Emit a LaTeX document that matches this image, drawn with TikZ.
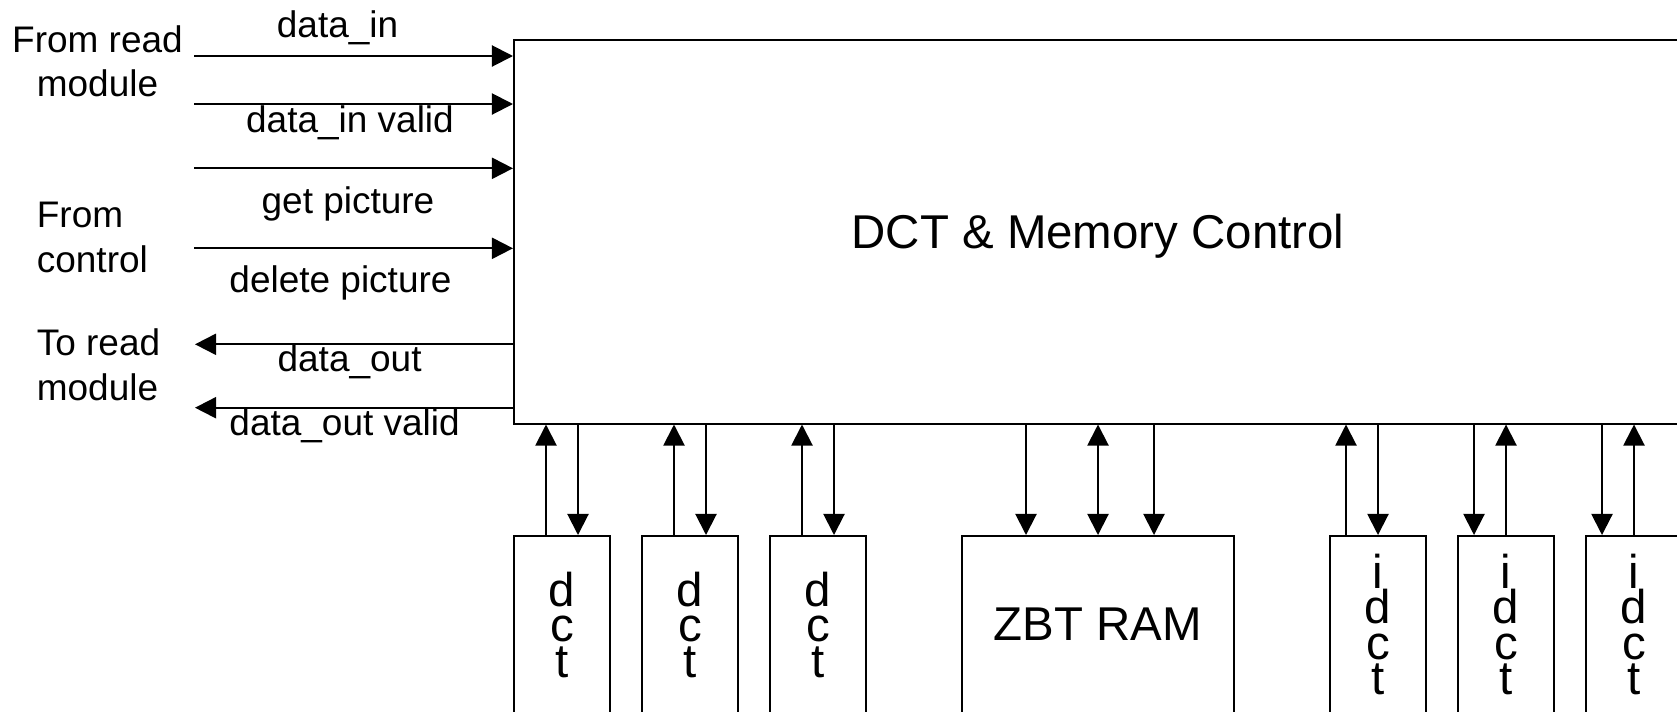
\documentclass[tikz,border=0pt]{standalone}
\usepackage{fontspec}
\setmainfont{Liberation Sans}
\usetikzlibrary{arrows.meta,calc}
\def\u{0.02cm}
\begin{document}
\begin{tikzpicture}[x=0.02cm,y=-0.02cm,
  lw/.style={line width=1.14pt},
  blk/.style={draw,lw,rectangle,inner sep=0pt},
  tipA/.tip={Triangle[length=12pt,width=12pt]},
  arr/.style={lw,-tipA},
  darr/.style={lw,tipA-tipA},
  lbl/.style={inner sep=0pt,font=\fontsize{21.05pt}{25.2pt}\selectfont},
  big/.style={font=\fontsize{27pt}{20.2pt}\selectfont},
]
\useasboundingbox (0,0) rectangle (1677,711);
\clip (0,0) rectangle (1677,711);

% main block
\node[blk,big,text depth=0pt,minimum width=1168*\u,minimum height=383.5*\u] (m) at (1098,231.75) {DCT \& Memory Control};

% lower blocks
\node[blk,big,align=center,minimum width=96*\u,minimum height=177*\u] (d1) at (562,624.5) {d\\c\\t};
\node[blk,big,align=center,minimum width=96*\u,minimum height=177*\u] (d2) at (690,624.5) {d\\c\\t};
\node[blk,big,align=center,minimum width=96*\u,minimum height=177*\u] (d3) at (818,624.5) {d\\c\\t};
\node[blk,big,minimum width=272*\u,minimum height=177*\u] (z) at (1098,624.5) {ZBT RAM};
\node[blk,big,align=center,minimum width=96*\u,minimum height=177*\u] (i1) at (1378,624.5) {i\\d\\c\\t};
\node[blk,big,align=center,minimum width=96*\u,minimum height=177*\u] (i2) at (1506,624.5) {i\\d\\c\\t};
\node[blk,big,align=center,minimum width=96*\u,minimum height=177*\u] (i3) at (1634,624.5) {i\\d\\c\\t};

% arrow feet on lower blocks
\coordinate (d1u) at ($(d1.north)+(-16,0)$);
\coordinate (d1d) at ($(d1.north)+(16,0)$);
\coordinate (d2u) at ($(d2.north)+(-16,0)$);
\coordinate (d2d) at ($(d2.north)+(16,0)$);
\coordinate (d3u) at ($(d3.north)+(-16,0)$);
\coordinate (d3d) at ($(d3.north)+(16,0)$);
\coordinate (z1) at ($(z.north)+(-72,0)$);
\coordinate (z2) at (z.north);
\coordinate (z3) at ($(z.north)+(56,0)$);
\coordinate (i1u) at ($(i1.north)+(-32,0)$);
\coordinate (i1d) at (i1.north);
\coordinate (i2d) at ($(i2.north)+(-32,0)$);
\coordinate (i2u) at (i2.north);
\coordinate (i3d) at ($(i3.north)+(-32,0)$);
\coordinate (i3u) at (i3.north);

\foreach \p in {d1u,d2u,d3u,i1u,i2u,i3u}
  \draw[arr] (\p) -- (\p |- m.south);
\foreach \p in {d1d,d2d,d3d,i1d,i2d,i3d,z1,z3}
  \draw[arr] (\p |- m.south) -- (\p);
\draw[darr] (z2 |- m.south) -- (z2);

% left side signals
\coordinate (in1) at (194,56);
\coordinate (in2) at (194,104);
\coordinate (in3) at (194,168.3);
\coordinate (in4) at (194,248.3);
\coordinate (out1) at (195,344.3);
\coordinate (out2) at (195,407.7);
\foreach \p in {in1,in2,in3,in4}
  \draw[arr] (\p) -- (\p -| m.west);
\foreach \p in {out1,out2}
  \draw[arr] (\p -| m.west) -- (\p);

\node[lbl,anchor=base] (l1) at (337.6,37) {data\_in};
\node[lbl,anchor=base] (l2) at (350,132.3) {data\_in valid};
\node[lbl,anchor=base] (l3) at (348,213) {get picture};
\node[lbl,anchor=base] (l4) at (340.5,292.7) {delete picture};
\node[lbl,anchor=base] (l5) at (349.6,371.7) {data\_out};
\node[lbl,anchor=base] (l6) at (344.6,435) {data\_out valid};

\node[lbl,align=center] (g1) at (97.5,61.4) {From read\\module};
\node[lbl,align=left,anchor=west] (g2) at (36.5,237.5) {From\\control};
\node[lbl,align=left,anchor=west] (g3) at (36.5,364.75) {To read\\module};
\end{tikzpicture}
\end{document}
